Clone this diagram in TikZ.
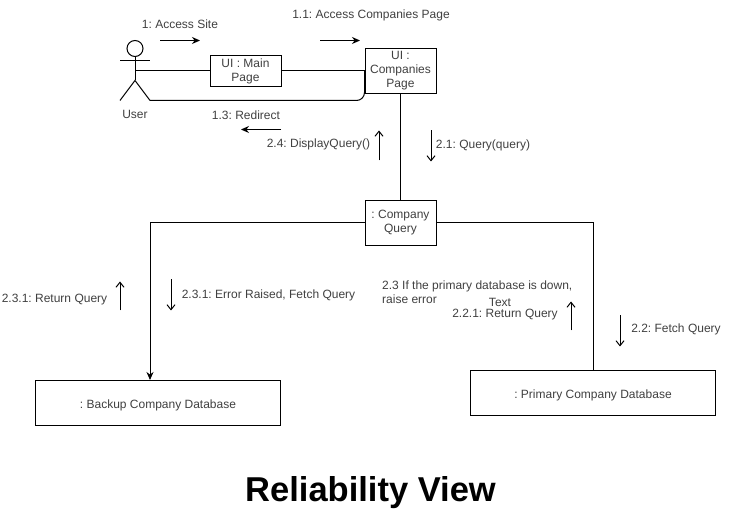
\documentclass[tikz,border=0pt]{standalone}
\usepackage{fontspec}
\setmainfont{Liberation Sans}
\usetikzlibrary{arrows.meta}
\tikzset{
	box/.style={draw,fill=white,line width=1pt,align=center,inner sep=0pt,font=\frenchspacing\fontsize{12}{14}\selectfont,text=black!75,execute at begin node={\rule{0pt}{13pt}}},
	lbl/.style={align=center,inner sep=0pt,yshift=-1pt,font=\frenchspacing\fontsize{12}{14}\selectfont,text=black!75},
	link/.style={line width=1pt},
	msgsolid/.style={line width=1pt,-{Stealth[length=8pt,width=7pt]}},
	msgopen/.style={line width=1pt,-{Straight Barb[length=5pt,width=8pt]}}
}
\begin{document}
\begin{tikzpicture}[x=1pt,y=1pt]
	\useasboundingbox (0,0.5) rectangle (732,512.5);
	% actor
	\coordinate (userneck) at (135,456);
	\coordinate (userhip) at (135,432);
	\coordinate (userbody) at (135,441.5);
	\coordinate (userfootL) at (120,412);
	\coordinate (userfootR) at (150,412);
	\coordinate (userarmL) at (120,452);
	\coordinate (userarmR) at (150,452);
	\draw[link] (135,464) circle (8);
	\draw[link] (userneck)--(userhip);
	\draw[link] (userarmL)--(userarmR);
	\draw[link] (userfootL)--(userhip)--(userfootR);
	% boxes
	\node[box,minimum width=71pt,minimum height=31pt] (mainpage) at (245.5,441.5) {UI : Main\\Page};
	\node[box,minimum width=71pt,minimum height=45pt] (companies) at (400.5,441.5) {UI :\\Companies\\Page};
	\node[box,minimum width=71pt,minimum height=45pt] (query) at (400.5,289.5) {: Company\\Query};
	\node[box,minimum width=245.5pt,minimum height=45pt] (backup) at (158,109.5) {: Backup Company Database};
	\node[box,minimum width=245.5pt,minimum height=45pt] (primary) at (593,119.5) {: Primary Company Database};
	% links
	\draw[link] (userbody)--(mainpage);
	\draw[link] (mainpage)--(companies);
	\draw[link,rounded corners=8pt] (userfootR)--(companies.west |- userfootR)--(companies.west);
	\draw[link] (companies)--(query);
	\coordinate (backuptop) at (150,0 |- backup.north);
	\draw[msgsolid] (query.west)-|(backuptop);
	\coordinate (primarytop) at (primary.north);
	\draw[link] (query.east)-|(primarytop);
	% message arrows
	\coordinate (A1) at (160,472);
	\coordinate (A2) at (200,472);
	\coordinate (B1) at (320,472);
	\coordinate (B2) at (360,472);
	\coordinate (C1) at (281,383);
	\coordinate (C2) at (241,383);
	\foreach \P/\Q in {A1/A2,B1/B2,C1/C2} \draw[msgsolid] (\P)--(\Q);
	\coordinate (D1) at (379,352);
	\coordinate (D2) at (379,382);
	\coordinate (E1) at (431,382);
	\coordinate (E2) at (431,351);
	\coordinate (F1) at (120,202);
	\coordinate (F2) at (120,231);
	\coordinate (G1) at (171,233);
	\coordinate (G2) at (171,202);
	\coordinate (H1) at (571,182);
	\coordinate (H2) at (571,211);
	\coordinate (J1) at (620,197);
	\coordinate (J2) at (620,166);
	\foreach \P/\Q in {D1/D2,E1/E2,F1/F2,G1/G2,H1/H2,J1/J2} \draw[msgopen] (\P)--(\Q);
	% labels
	\node[lbl] (lbluser) at (135,399) {User};
	\node[lbl] (lblsite) at (180,489) {1: Access Site};
	\node[lbl] (lblpage) at (371,498) {1.1: Access Companies Page};
	\node[lbl] (lblredirect) at (246,398.5) {1.3: Redirect};
	\node[lbl] (lbldisplay) at (318.5,369) {2.4: DisplayQuery()};
	\node[lbl] (lblquery) at (483,368.5) {2.1: Query(query)};
	\node[lbl] (lblreturnB) at (54.5,214) {2.3.1: Return Query};
	\node[lbl] (lblerror) at (268.5,218.5) {2.3.1: Error Raised, Fetch Query};
	\node[lbl,align=left,anchor=west] (lbldown) at (382,221) {2.3 If the primary database is down,\\raise error};
	\node[lbl] (lbltext) at (500,211.5) {Text};
	\node[lbl] (lblreturnP) at (505,199) {2.2.1: Return Query};
	\node[lbl] (lblfetch) at (676,184) {2.2: Fetch Query};
	\node[font=\fontsize{34.5}{40}\selectfont\bfseries,inner sep=0pt] (title) at (370.5,20) {Reliability View};
\end{tikzpicture}
\end{document}
